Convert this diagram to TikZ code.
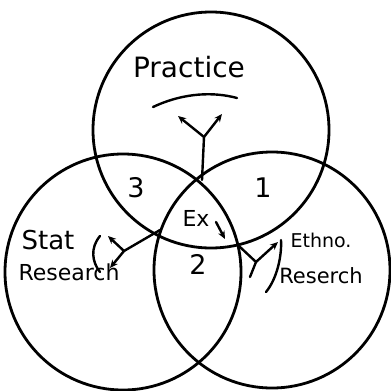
\documentclass[tikz,border=0pt]{standalone}
\usepackage{fontspec}
\setmainfont{DejaVu Sans}
\usetikzlibrary{arrows.meta}
\begin{document}
\begin{tikzpicture}[x=1pt,y=-1pt,
  ring/.style={line width=2.8pt},
  hand/.style={line width=2.4pt,line cap=round,line join=round},
  tip/.style={hand,-{Stealth[length=8pt,width=7pt]}},
  lab/.style={font=\fontsize{#1}{#1}\selectfont,inner sep=0pt},
  lab/.default=18]
\useasboundingbox (0,0) rectangle (391,391);
\fill[white] (0,0) rectangle (391,391);
% circles
\draw[ring] (211,130) circle[radius=118];
\draw[ring] (123,272) circle[radius=118];
\draw[ring] (272,270) circle[radius=118];
% labels
\node[lab=28] (prac) at (189,67) {Practice};
\node[lab=27] (n3) at (136,188) {3};
\node[lab=27] (n1) at (263,188) {1};
\node[lab=27] (n2) at (198,264) {2};
\node[lab=22] (ex) at (196,218) {Ex};
\node[lab=26] (stat) at (48,240) {Stat};
\node[lab=22] (sres) at (69,272) {Research};
\node[lab=19] (eth) at (321,240) {Ethno.};
\node[lab=21] (eres) at (321,276) {Reserch};
% underline
\draw[hand] (153,107) .. controls (185,92) and (215,92) .. (237,98);
% top arrows
\coordinate (c0) at (202,180);
\coordinate (c1) at (204,137);
\coordinate (pl) at (178,116);
\coordinate (pr) at (222,114);
\draw[hand] (c0) -- (c1);
\draw[tip] (c1) -- (pl);
\draw[tip] (c1) -- (pr);
% ex arrow
\coordinate (e1) at (216,222);
\coordinate (e2) at (225,239);
\draw[tip] (e1) -- (e2);
% left arrows
\coordinate (l0) at (160,230);
\coordinate (l1) at (124,251);
\coordinate (la) at (108,236);
\coordinate (lb) at (110,268);
\draw[hand] (l0) -- (l1);
\draw[tip] (l1) -- (la);
\draw[tip] (l1) -- (lb);
\draw[hand] (100,236) .. controls (90,248) and (92,262) .. (100,272);
% right arrows
\coordinate (r0) at (240,247);
\coordinate (r1) at (256,262);
\coordinate (ra) at (278,242);
\coordinate (rb) at (250,277);
\draw[hand] (r0) -- (r1);
\draw[tip] (r1) -- (ra);
\draw[hand] (r1) -- (rb);
\draw[hand] (281,240) .. controls (282,258) and (276,280) .. (266,292);
\end{tikzpicture}
\end{document}
